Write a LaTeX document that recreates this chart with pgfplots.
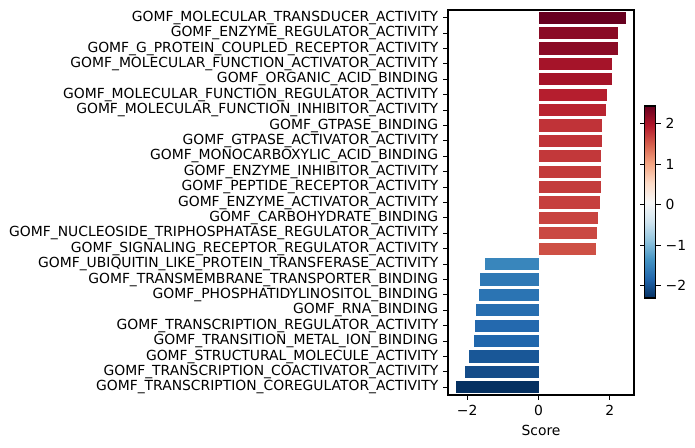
\documentclass[border=0pt]{standalone}
\usepackage{pgfplots}
\pgfplotsset{compat=1.18}
\usepackage{fontspec}
\setmainfont{DejaVu Sans}

% one horizontal bar: #1 = score, #2 = row; filled with the colormap colour of its score
\newcommand\scorebar[2]{%
  \pgfmathsetmacro\cidx{1000*((#1)+2.30)/(2.44+2.30)}%
  \edef\next{\noexpand\addplot[xbar, bar shift=0pt, bar width=0.8, draw=none,
    color of colormap={\cidx}, fill=.] coordinates {(#1,#2)};}%
  \next}

\begin{document}
\begin{tikzpicture}
\useasboundingbox (-322.56pt,-38.16pt) rectangle (177.84pt,284.4pt);
\begin{axis}[
  at={(0,0)}, anchor=south west,
  scale only axis, width=133.92pt, height=277.2pt,
  font=\fontsize{10}{12}\selectfont,
  xmin=-2.537, xmax=2.677, ymin=-0.5, ymax=24.5, y dir=reverse,
  xtick={-2,0,2}, xticklabels={−2,0,2},
  ytick={0,...,24},
  yticklabels={
    GOMF\_MOLECULAR\_TRANSDUCER\_ACTIVITY,
    GOMF\_ENZYME\_REGULATOR\_ACTIVITY,
    GOMF\_G\_PROTEIN\_COUPLED\_RECEPTOR\_ACTIVITY,
    GOMF\_MOLECULAR\_FUNCTION\_ACTIVATOR\_ACTIVITY,
    GOMF\_ORGANIC\_ACID\_BINDING,
    GOMF\_MOLECULAR\_FUNCTION\_REGULATOR\_ACTIVITY,
    GOMF\_MOLECULAR\_FUNCTION\_INHIBITOR\_ACTIVITY,
    GOMF\_GTPASE\_BINDING,
    GOMF\_GTPASE\_ACTIVATOR\_ACTIVITY,
    GOMF\_MONOCARBOXYLIC\_ACID\_BINDING,
    GOMF\_ENZYME\_INHIBITOR\_ACTIVITY,
    GOMF\_PEPTIDE\_RECEPTOR\_ACTIVITY,
    GOMF\_ENZYME\_ACTIVATOR\_ACTIVITY,
    GOMF\_CARBOHYDRATE\_BINDING,
    GOMF\_NUCLEOSIDE\_TRIPHOSPHATASE\_REGULATOR\_ACTIVITY,
    GOMF\_SIGNALING\_RECEPTOR\_REGULATOR\_ACTIVITY,
    GOMF\_UBIQUITIN\_LIKE\_PROTEIN\_TRANSFERASE\_ACTIVITY,
    GOMF\_TRANSMEMBRANE\_TRANSPORTER\_BINDING,
    GOMF\_PHOSPHATIDYLINOSITOL\_BINDING,
    GOMF\_RNA\_BINDING,
    GOMF\_TRANSCRIPTION\_REGULATOR\_ACTIVITY,
    GOMF\_TRANSITION\_METAL\_ION\_BINDING,
    GOMF\_STRUCTURAL\_MOLECULE\_ACTIVITY,
    GOMF\_TRANSCRIPTION\_COACTIVATOR\_ACTIVITY,
    GOMF\_TRANSCRIPTION\_COREGULATOR\_ACTIVITY},
  xtick pos=left, ytick pos=left,
  tick align=outside, major tick length=3.5pt,
  tick style={line width=0.8pt, black},
  axis line style={line width=0.8pt},
  xlabel={Score},
  colormap={rdbur}{rgb255=(5,48,97) rgb255=(33,102,172) rgb255=(67,147,195)
    rgb255=(146,197,222) rgb255=(209,229,240) rgb255=(247,247,247)
    rgb255=(253,219,199) rgb255=(244,165,130) rgb255=(214,96,77)
    rgb255=(178,24,43) rgb255=(103,0,31)},
  point meta min=-2.30, point meta max=2.44,
  colorbar,
  colorbar style={
    at={(parent axis.south east)}, anchor=south west,
    xshift=-0.72pt, yshift=69.84pt,
    width=7.92pt, height=138.24pt,
    ytick={-2,-1,0,1,2}, yticklabels={−2,−1,0,1,2},
    tick align=outside, major tick length=3.5pt,
    tick style={line width=0.8pt, black},
    axis line style={line width=0.8pt},
    font=\fontsize{10}{12}\selectfont,
  },
]
\scorebar{2.44}{0}
\scorebar{2.22}{1}
\scorebar{2.22}{2}
\scorebar{2.05}{3}
\scorebar{2.05}{4}
\scorebar{1.93}{5}
\scorebar{1.88}{6}
\scorebar{1.79}{7}
\scorebar{1.79}{8}
\scorebar{1.76}{9}
\scorebar{1.74}{10}
\scorebar{1.74}{11}
\scorebar{1.71}{12}
\scorebar{1.68}{13}
\scorebar{1.65}{14}
\scorebar{1.60}{15}
\scorebar{-1.49}{16}
\scorebar{-1.63}{17}
\scorebar{-1.68}{18}
\scorebar{-1.74}{19}
\scorebar{-1.79}{20}
\scorebar{-1.82}{21}
\scorebar{-1.96}{22}
\scorebar{-2.05}{23}
\scorebar{-2.30}{24}
\end{axis}
\end{tikzpicture}
\end{document}
